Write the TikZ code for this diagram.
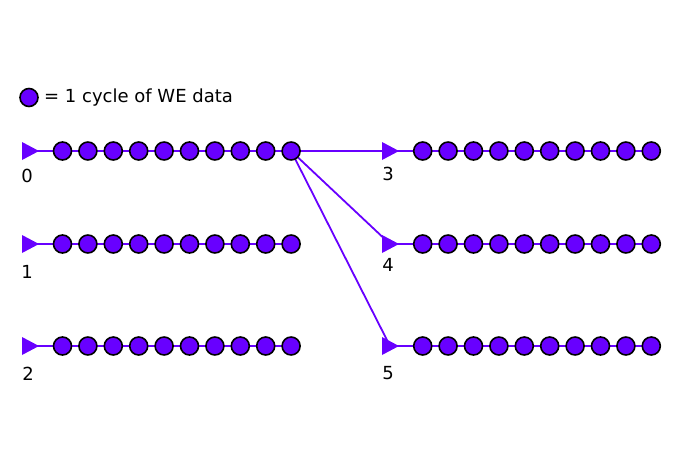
\documentclass[tikz,border=0pt]{standalone}
\usepackage{fontspec}
\setmainfont{DejaVu Sans}
\usetikzlibrary{calc,backgrounds}
\definecolor{wepurple}{RGB}{104,0,255}
\tikzset{
  wedot/.style={circle, fill=wepurple, draw=black, line width=1.6pt, minimum size=18pt, inner sep=0pt},
  chainline/.style={draw=wepurple, line width=1.8pt},
  linkline/.style={draw=wepurple, line width=1.8pt},
  lbl/.style={font=\fontsize{18}{20}\selectfont, inner sep=0pt},
}
\newcommand{\wetri}[1]{\fill[wepurple] ($(#1)+(-8,-9)$) -- ($(#1)+(9,0)$) -- ($(#1)+(-8,9)$) -- cycle;}
\begin{document}
\begin{tikzpicture}[x=1pt,y=-1pt]
\useasboundingbox (0,0) rectangle (674,476);
% legend
\node[wedot] (leg) at (29,97.5) {};
\node[lbl, anchor=west] (legtext) at (44,97.5) {= 1 cycle of WE data};
% chains
\foreach \id/\tx/\cx/\ry/\lx/\ly in {0/30/62.5/151/27/176, 1/30/62.5/244/27/272, 2/30/62.5/346/28/374, 3/390/422.7/151/388/174, 4/390/422.7/244/388/265, 5/390/422.7/346/388/373}{
  \coordinate (t\id) at (\tx,\ry);
  \foreach \k in {0,...,9}{
    \node[wedot] (c\id-\k) at ({\cx+25.4*\k},\ry) {};
  }
  \node[lbl] (n\id) at (\lx,\ly) {\id};
}
\begin{pgfonlayer}{background}
  \foreach \id in {0,...,5}{
    \draw[chainline] (t\id) -- (c\id-9.center);
  }
  \draw[linkline] (c0-9.center) -- (t3);
  \draw[linkline] (c0-9.center) -- (t4);
  \draw[linkline] (c0-9.center) -- (t5);
  \foreach \id in {0,...,5}{
    \wetri{t\id}
  }
\end{pgfonlayer}
\end{tikzpicture}
\end{document}
